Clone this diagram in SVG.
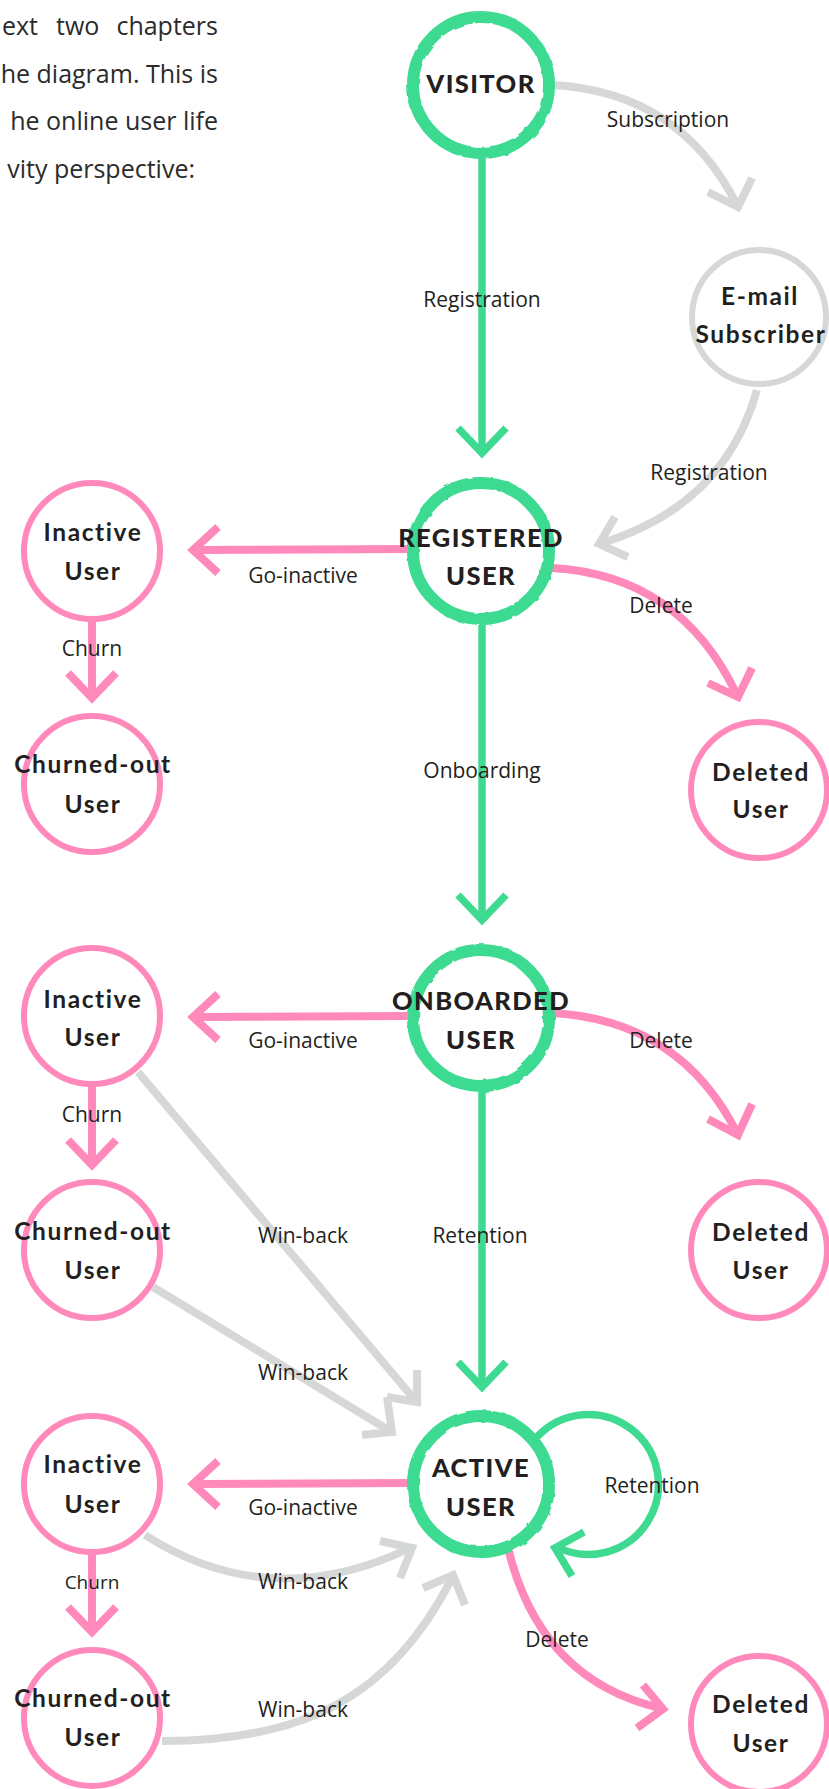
<svg xmlns="http://www.w3.org/2000/svg" width="829" height="1789" viewBox="0 0 829 1789">
<defs>
<style>
.intro{font-family:"Open Sans","Liberation Sans",sans-serif;font-size:25px;fill:#2b2b2b}
.lbl{font-family:"Open Sans","Liberation Sans",sans-serif;font-size:21px;fill:#231f20;text-anchor:middle}
.nt{font-family:Lato,"Liberation Sans",sans-serif;font-size:24.5px;font-weight:700;fill:#231f20;text-anchor:middle;letter-spacing:1.6px}
.ct{font-family:Lato,"Liberation Sans",sans-serif;font-size:25.5px;font-weight:900;fill:#231f20;text-anchor:middle;letter-spacing:1.4px}
.cg{fill:#fff;stroke:#3EDA92;stroke-width:12}
.cp{fill:#fff;stroke:#FF89BA;stroke-width:6}
.cy{fill:#fff;stroke:#D6D8D7;stroke-width:6}
.eg{fill:none;stroke:#3EDA92;stroke-width:7.5;stroke-linejoin:miter}
.ep{fill:none;stroke:#FF89BA;stroke-width:8;stroke-linejoin:miter}
.ey{fill:none;stroke:#D6D8D7;stroke-width:8;stroke-linejoin:miter}
</style>
<filter id="rough" x="-10%" y="-10%" width="120%" height="120%">
<feTurbulence type="fractalNoise" baseFrequency="0.09" numOctaves="2" seed="3" result="n"/>
<feDisplacementMap in="SourceGraphic" in2="n" scale="3"/>
</filter>
</defs>

<g id="intro">
<text class="intro" y="35"><tspan x="2">ext</tspan><tspan x="56">two</tspan><tspan x="218" text-anchor="end">chapters</tspan></text>
<text class="intro" x="218" y="83" text-anchor="end">he diagram. This is</text>
<text class="intro" x="218" y="130" text-anchor="end">he online user life</text>
<text class="intro" x="195" y="178" text-anchor="end">vity perspective:</text>
</g>

<g id="connectors">
<!-- green -->
<path class="eg" d="M482,158 L482,450"/>
<polyline class="eg" points="458,428 482,453 506,428"/>
<path class="eg" d="M482,625 L482,917"/>
<polyline class="eg" points="458,895 482,920 506,895"/>
<path class="eg" d="M482,1092 L482,1384"/>
<polyline class="eg" points="458,1362 482,1387 506,1362"/>
<path class="eg" d="M537,1437 A70,70 0 1 1 557,1547"/>
<polyline class="eg" points="584,1532 555,1548 572,1576"/>
<!-- pink -->
<path class="ep" d="M410,549 L196,550"/>
<polyline class="ep" points="218,527 193,550 218,573"/>
<path class="ep" d="M410,1016 L196,1017"/>
<polyline class="ep" points="218,994 193,1017 218,1040"/>
<path class="ep" d="M410,1483 L196,1484"/>
<polyline class="ep" points="218,1461 193,1484 218,1507"/>
<path class="ep" d="M92,622 L92,695"/>
<polyline class="ep" points="68,673 92,698 116,673"/>
<path class="ep" d="M92,1085 L92,1162"/>
<polyline class="ep" points="68,1140 92,1165 116,1140"/>
<path class="ep" d="M92,1555 L92,1629"/>
<polyline class="ep" points="68,1607 92,1632 116,1607"/>
<path class="ep" d="M552,568 Q680,575 737,695"/>
<polyline class="ep" points="708,683 738,697 752,668"/>
<path class="ep" d="M552,1013 Q680,1020 737,1133"/>
<polyline class="ep" points="708,1119 738,1135 752,1104"/>
<path class="ep" d="M508,1548 Q540,1680 660,1708"/>
<polyline class="ep" points="643,1685 663,1709 637,1728"/>
<!-- gray -->
<path class="ey" d="M553,85 Q680,92 737,205"/>
<polyline class="ey" points="708,192 738,207 752,178"/>
<path class="ey" d="M757,390 Q725,505 602,543"/>
<polyline class="ey" points="615,517 599,544 628,557"/>
<path class="ey" d="M138,1072 L415,1400"/>
<polyline class="ey" points="417,1370 417,1402 387,1397"/>
<path class="ey" d="M153,1287 L390,1431"/>
<polyline class="ey" points="387,1397 392,1432 362,1435"/>
<path class="ey" d="M145,1535 Q270,1615 410,1548"/>
<polyline class="ey" points="380,1541 412,1548 400,1578"/>
<path class="ey" d="M162,1741 C300,1741 390,1700 452,1578"/>
<polyline class="ey" points="423,1588 453,1575 465,1605"/>
</g>

<g id="edge-labels">
<text class="lbl" x="668" y="127">Subscription</text>
<text class="lbl" x="482" y="307">Registration</text>
<text class="lbl" x="709" y="480">Registration</text>
<text class="lbl" x="303" y="583">Go-inactive</text>
<text class="lbl" x="661" y="613">Delete</text>
<text class="lbl" x="92" y="656">Churn</text>
<text class="lbl" x="482" y="778">Onboarding</text>
<text class="lbl" x="303" y="1048">Go-inactive</text>
<text class="lbl" x="661" y="1048">Delete</text>
<text class="lbl" x="92" y="1122">Churn</text>
<text class="lbl" x="303" y="1243">Win-back</text>
<text class="lbl" x="480" y="1243">Retention</text>
<text class="lbl" x="303" y="1380">Win-back</text>
<text class="lbl" x="652" y="1493">Retention</text>
<text class="lbl" x="303" y="1515">Go-inactive</text>
<text class="lbl" x="303" y="1589">Win-back</text>
<text class="lbl" x="92" y="1589" style="font-size:19px">Churn</text>
<text class="lbl" x="557" y="1647">Delete</text>
<text class="lbl" x="303" y="1717">Win-back</text>
</g>

<g id="visitor"><circle class="cg" cx="481" cy="85" r="68" filter="url(#rough)"/><text class="ct" x="481" y="93">VISITOR</text></g>
<g id="email-subscriber"><circle class="cy" cx="759" cy="317" r="67"/><text class="nt" x="760" y="305">E-mail</text><text class="nt" x="761" y="343">Subscriber</text></g>
<g id="registered-user"><circle class="cg" cx="481" cy="551" r="68" filter="url(#rough)"/><text class="ct" x="481" y="547">REGISTERED</text><text class="ct" x="481" y="585">USER</text></g>
<g id="inactive-user-1"><circle class="cp" cx="92" cy="551" r="68"/><text class="nt" x="93" y="541">Inactive</text><text class="nt" x="93" y="580">User</text></g>
<g id="churned-out-user-1"><circle class="cp" cx="92" cy="784" r="68"/><text class="nt" x="93" y="773">Churned-out</text><text class="nt" x="93" y="813">User</text></g>
<g id="deleted-user-1"><circle class="cp" cx="759" cy="790" r="68"/><text class="nt" x="761" y="781">Deleted</text><text class="nt" x="761" y="818">User</text></g>
<g id="onboarded-user"><circle class="cg" cx="481" cy="1018" r="68" filter="url(#rough)"/><text class="ct" x="481" y="1010">ONBOARDED</text><text class="ct" x="481" y="1049">USER</text></g>
<g id="inactive-user-2"><circle class="cp" cx="92" cy="1016" r="68"/><text class="nt" x="93" y="1008">Inactive</text><text class="nt" x="93" y="1046">User</text></g>
<g id="churned-out-user-2"><circle class="cp" cx="92" cy="1250" r="68"/><text class="nt" x="93" y="1240">Churned-out</text><text class="nt" x="93" y="1279">User</text></g>
<g id="deleted-user-2"><circle class="cp" cx="759" cy="1250" r="68"/><text class="nt" x="761" y="1241">Deleted</text><text class="nt" x="761" y="1279">User</text></g>
<g id="active-user"><circle class="cg" cx="481" cy="1484" r="68" filter="url(#rough)"/><text class="ct" x="481" y="1477">ACTIVE</text><text class="ct" x="481" y="1516">USER</text></g>
<g id="inactive-user-3"><circle class="cp" cx="92" cy="1484" r="68"/><text class="nt" x="93" y="1473">Inactive</text><text class="nt" x="93" y="1513">User</text></g>
<g id="churned-out-user-3"><circle class="cp" cx="92" cy="1718" r="68"/><text class="nt" x="93" y="1707">Churned-out</text><text class="nt" x="93" y="1746">User</text></g>
<g id="deleted-user-3"><circle class="cp" cx="759" cy="1724" r="68"/><text class="nt" x="761" y="1713">Deleted</text><text class="nt" x="761" y="1752">User</text></g>
</svg>
